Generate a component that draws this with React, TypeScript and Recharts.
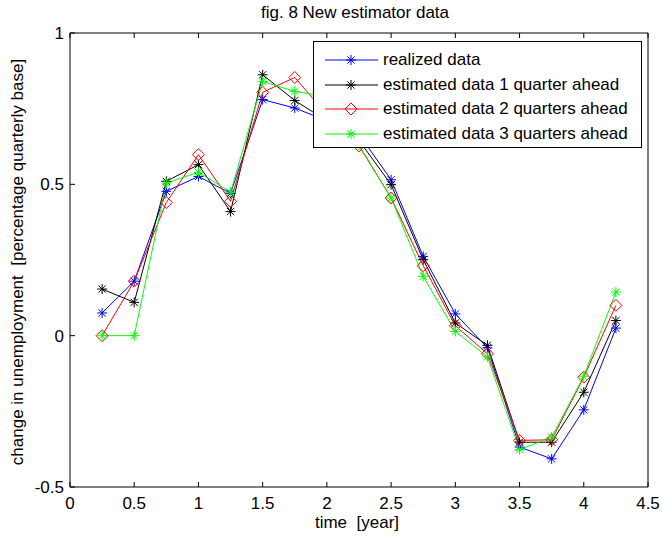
import { LineChart, Line, XAxis, YAxis } from 'recharts'

const years = [0.25, 0.5, 0.75, 1, 1.25, 1.5, 1.75, 2, 2.25, 2.5, 2.75, 3, 3.25, 3.5, 3.75, 4, 4.25]
const realized = [0.075, 0.18, 0.477, 0.526, 0.47, 0.78, 0.752, 0.71, 0.665, 0.515, 0.262, 0.072, -0.04, -0.368, -0.407, -0.245, 0.025]
const est1q = [0.154, 0.11, 0.51, 0.565, 0.41, 0.862, 0.777, 0.71, 0.645, 0.499, 0.251, 0.042, -0.032, -0.352, -0.352, -0.187, 0.05]
const est2q = [0, 0.18, 0.44, 0.598, 0.444, 0.804, 0.853, 0.73, 0.627, 0.455, 0.231, 0.033, -0.06, -0.346, -0.344, -0.137, 0.1]
const est3q = [0, 0, 0.504, 0.54, 0.474, 0.84, 0.807, 0.79, 0.63, 0.455, 0.196, 0.014, -0.07, -0.377, -0.335, -0.134, 0.144]

const xTicks = [0, 0.5, 1, 1.5, 2, 2.5, 3, 3.5, 4, 4.5]
const yTicks = [-0.5, 0, 0.5, 1]

const series = [
  { key: 'realized', name: 'realized data', color: '#0000FF', marker: 'star' },
  { key: 'est1q', name: 'estimated data 1 quarter ahead', color: '#000000', marker: 'star' },
  { key: 'est2q', name: 'estimated data 2 quarters ahead', color: '#FF0000', marker: 'diamond' },
  { key: 'est3q', name: 'estimated data 3 quarters ahead', color: '#00FF00', marker: 'star' },
]

const data = years.map((x, i) => ({ x, realized: realized[i], est1q: est1q[i], est2q: est2q[i], est3q: est3q[i] }))

const FONT = '"Liberation Sans", Arial, Helvetica, sans-serif'

function Marker({ cx, cy, color, kind }: { cx: number; cy: number; color: string; kind: string }) {
  if (kind === 'diamond') {
    const r = 6
    return <polygon points={`${cx},${cy - r} ${cx + r},${cy} ${cx},${cy + r} ${cx - r},${cy}`} fill="none" stroke={color} strokeWidth={1} />
  }
  const r = 5, d = 3.6
  return (
    <g stroke={color} strokeWidth={1}>
      <line x1={cx - r} y1={cy} x2={cx + r} y2={cy} />
      <line x1={cx} y1={cy - r} x2={cx} y2={cy + r} />
      <line x1={cx - d} y1={cy - d} x2={cx + d} y2={cy + d} />
      <line x1={cx - d} y1={cy + d} x2={cx + d} y2={cy - d} />
    </g>
  )
}

const fmt = (v: number) => String(v)

function BottomTick({ x, y, payload }: any) {
  return (
    <g>
      <line x1={x} y1={y} x2={x} y2={y - 5} stroke="#000" />
      <text x={x} y={y + 22} textAnchor="middle" fontSize={17} fontFamily={FONT} fill="#000">{fmt(payload.value)}</text>
    </g>
  )
}
function TopTick({ x, y }: any) {
  return <line x1={x} y1={y} x2={x} y2={y + 5} stroke="#000" />
}
function LeftTick({ x, y, payload }: any) {
  return (
    <g>
      <line x1={x} y1={y} x2={x + 5} y2={y} stroke="#000" />
      <text x={x - 6} y={y} dy="0.35em" textAnchor="end" fontSize={17} fontFamily={FONT} fill="#000">{fmt(payload.value)}</text>
    </g>
  )
}
function RightTick({ x, y }: any) {
  return <line x1={x} y1={y} x2={x - 5} y2={y} stroke="#000" />
}

function LegendBox() {
  return (
    <div style={{ position: 'absolute', left: 313, top: 41, border: '1px solid #000', background: '#fff', width: 329, height: 107, boxSizing: 'border-box' }}>
      {series.map((s, i) => (
        <div key={s.key} style={{ position: 'absolute', left: 10, top: 6 + i * 24.5, height: 24, display: 'flex', alignItems: 'center' }}>
          <svg width={56} height={16}>
            <line x1={1} y1={8} x2={54} y2={8} stroke={s.color} strokeWidth={1} />
            <Marker cx={27} cy={8} color={s.color} kind={s.marker} />
          </svg>
          <span style={{ fontFamily: FONT, fontSize: 17, color: '#000', marginLeft: 3, whiteSpace: 'nowrap' }}>{s.name}</span>
        </div>
      ))}
    </div>
  )
}

export default function App() {
  return (
    <div style={{ position: 'absolute', left: 0, top: 0, width: 662, height: 539, background: '#fff' }}>
      <LineChart width={662} height={539} data={data} margin={{ top: 32, right: 13, bottom: 22, left: 0 }}>
        <XAxis dataKey="x" type="number" domain={[0, 4.5]} ticks={xTicks} height={30} tickSize={0} tickMargin={0}
          tick={<BottomTick />} tickLine={false} axisLine={{ stroke: '#000' }} interval={0} />
        <XAxis xAxisId="top" orientation="top" dataKey="x" type="number" domain={[0, 4.5]} ticks={xTicks} height={1}
          tickSize={0} tickMargin={0} tick={<TopTick />} tickLine={false} axisLine={{ stroke: '#000' }} interval={0} />
        <YAxis type="number" domain={[-0.5, 1]} ticks={yTicks} width={70} tickSize={0} tickMargin={0}
          tick={<LeftTick />} tickLine={false} axisLine={{ stroke: '#000' }} interval={0} />
        <YAxis yAxisId="right" orientation="right" type="number" domain={[-0.5, 1]} ticks={yTicks} width={1}
          tickSize={0} tickMargin={0} tick={<RightTick />} tickLine={false} axisLine={{ stroke: '#000' }} interval={0} />
        {series.map(s => (
          <Line key={s.key} dataKey={s.key} name={s.name} stroke={s.color} strokeWidth={1} isAnimationActive={false}
            dot={(p: any) => <Marker key={`${s.key}-${p.index}`} cx={p.cx} cy={p.cy} color={s.color} kind={s.marker} />}
            activeDot={false} />
        ))}
      </LineChart>
      <LegendBox />
      <div style={{ position: 'absolute', left: 0, width: 710, top: 3, textAlign: 'center', fontFamily: FONT, fontSize: 17 }}>
        fig. 8 New estimator data
      </div>
      <div style={{ position: 'absolute', left: 0, width: 714, top: 513, textAlign: 'center', fontFamily: FONT, fontSize: 17, whiteSpace: 'pre' }}>
        {'time  [year]'}
      </div>
      <div style={{ position: 'absolute', left: 18, top: 263, width: 0, height: 0 }}>
        <div style={{ position: 'absolute', left: -250, top: -11, width: 500, textAlign: 'center', transform: 'rotate(-90deg)', fontFamily: FONT, fontSize: 17, whiteSpace: 'pre' }}>
          {'change in unemployment  [percentage quarterly base]'}
        </div>
      </div>
    </div>
  )
}
